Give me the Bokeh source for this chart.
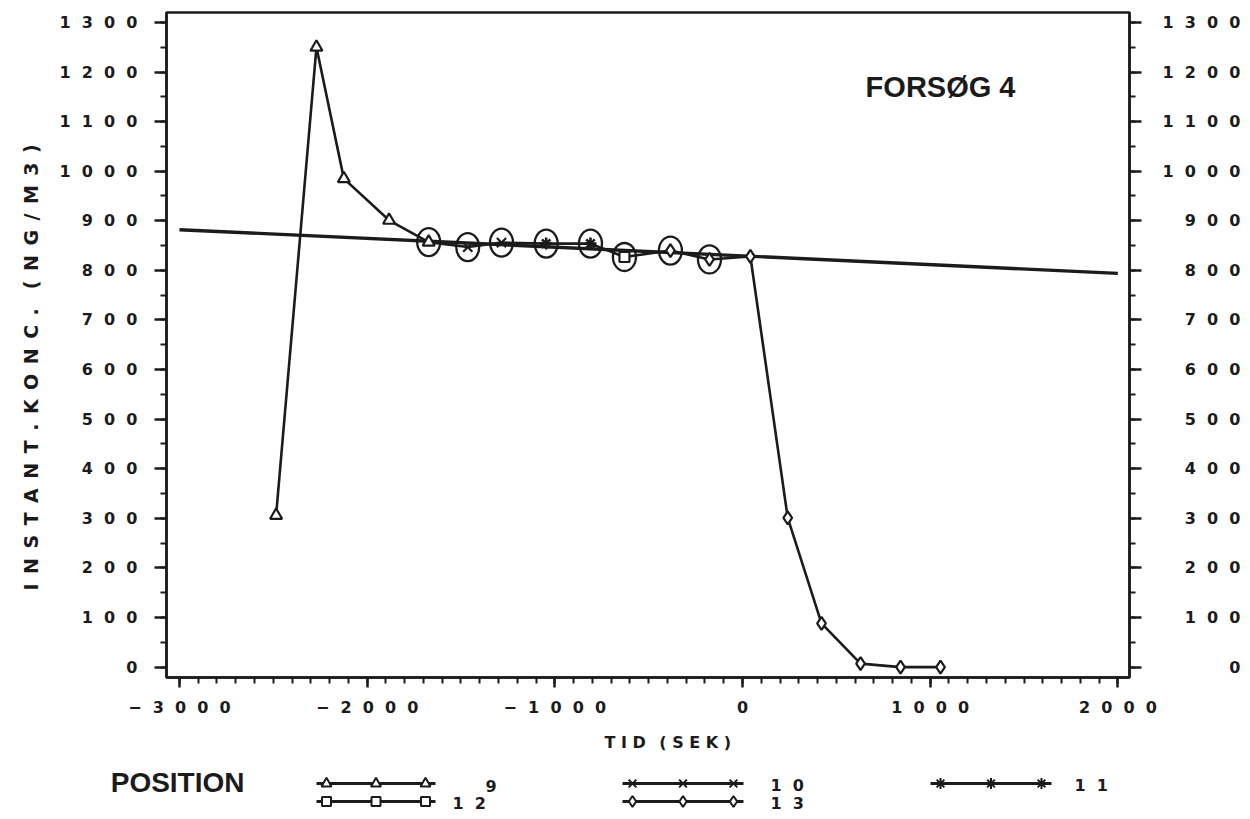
from bokeh.plotting import figure
from bokeh.models import Range1d, FixedTicker, LinearAxis, Label, Title
from bokeh.layouts import column
from bokeh.embed import file_html
from bokeh.resources import INLINE
from bokeh.core.properties import value

# ---------------- data ----------------
pos9_t = [-2485, -2270, -2124, -1883, -1672]
pos9_c = [306, 1250, 985, 901, 857]
pos10_t = [-1464, -1284]
pos10_c = [847, 856]
pos11_t = [-1046, -810]
pos11_c = [854, 854]
pos12_t = [-629]
pos12_c = [827]
pos13_t = [-384, -176, 42, 241, 421, 629, 842, 1055]
pos13_c = [840, 822, 828, 301, 88, 7, 0, 0]

regression_window = (-1700, -150)      # circled points used for the fit
reg_t = [-3000, 2000]
reg_c = [882, 794]

x_ticks = [-3000, -2000, -1000, 0, 1000, 2000]
y_ticks = [0, 100, 200, 300, 400, 500, 600, 700, 800, 900, 1000, 1100, 1200, 1300]
legend_names = ["9", "10", "11", "12", "13"]
title_text = "FORSØG 4"
x_title = "TID (SEK)"
y_title = "INSTANT.KONC. (NG/M3)"
legend_title = "POSITION"

# ---------------- helpers ----------------
INK = "#1b1b1b"
FS = "\u2007"   # figure space (same width as a digit)
EN = "\u2002"   # en space
NUM_FONT = "DejaVu Sans"


def spaced_num(v):
    s = str(v).replace("-", "\u2212")
    return FS.join(s)


def spaced_words(s, sep=EN, word_sep=EN * 2):
    return word_sep.join(sep.join(w) for w in s.split(" "))


all_t = pos9_t + pos10_t + pos11_t + pos12_t + pos13_t
all_c = pos9_c + pos10_c + pos11_c + pos12_c + pos13_c
circ_t = [t for t in all_t if regression_window[0] <= t <= regression_window[1]]
circ_c = [c for t, c in zip(all_t, all_c) if regression_window[0] <= t <= regression_window[1]]

# ---------------- main figure ----------------
W = 1250
MAIN_H = 765
p = figure(width=W, height=MAIN_H, x_range=Range1d(-3069, 2062), y_range=Range1d(-21, 1320),
           output_backend="svg", toolbar_location=None)
p.min_border_left = 166
p.min_border_right = 121
p.min_border_top = 12
p.min_border_bottom = MAIN_H - 677
p.grid.visible = False
p.outline_line_color = INK
p.outline_line_width = 2.5
p.background_fill_color = "white"
p.border_fill_color = "white"


def style_axis(ax, tick_out, minor_out, standoff):
    ax.axis_line_color = INK
    ax.axis_line_width = 2.5
    ax.major_tick_in = 0
    ax.major_tick_out = tick_out
    ax.minor_tick_in = 0
    ax.minor_tick_out = minor_out
    ax.major_tick_line_color = INK
    ax.major_tick_line_width = 2.5
    ax.minor_tick_line_color = INK
    ax.minor_tick_line_width = 2
    ax.major_label_text_font = NUM_FONT
    ax.major_label_text_font_style = "bold"
    ax.major_label_text_font_size = "16px"
    ax.major_label_text_color = INK
    ax.major_label_standoff = standoff


xax = p.xaxis[0]
xax.ticker = FixedTicker(ticks=x_ticks, minor_ticks=list(range(x_ticks[0], x_ticks[-1] + 1, 100)))
style_axis(xax, 10, 6, 10)
xax.major_label_overrides = {t: spaced_num(t) for t in x_ticks}

yminor = list(range(y_ticks[0], y_ticks[-1] + 1, 50))
yax = p.yaxis[0]
yax.ticker = FixedTicker(ticks=y_ticks, minor_ticks=yminor)
style_axis(yax, 12, 6, 17)
yax.major_label_overrides = {t: spaced_num(t) for t in y_ticks}

rax = LinearAxis(ticker=FixedTicker(ticks=y_ticks, minor_ticks=yminor))
style_axis(rax, 12, 6, 21)
width_chars = len(spaced_num(max(y_ticks)))
rax.major_label_overrides = {t: spaced_num(t).rjust(width_chars, FS) for t in y_ticks}
p.add_layout(rax, "right")

# axis titles as side-panel titles (placed like the reference)
p.add_layout(Title(text=spaced_words(x_title, " ", " " + EN), align="left", offset=438, standoff=22,
                   text_font=NUM_FONT, text_font_style="bold", text_font_size="16px",
                   text_color=INK), "below")
p.add_layout(Title(text=spaced_words(y_title), align="left", offset=87, standoff=30,
                   text_font=NUM_FONT, text_font_style="bold", text_font_size="19px",
                   text_color=INK), "left")

# regression line and data polyline
p.line(reg_t, reg_c, line_color=INK, line_width=3.4)
p.line(all_t, all_c, line_color=INK, line_width=2.6)

# circles around the points used in the fit
p.ellipse(x=circ_t, y=circ_c, width=23, height=28, width_units="screen", height_units="screen",
          fill_color=None, line_color=INK, line_width=2.3)

mk = dict(line_color=INK, line_width=2.2)
p.scatter(pos9_t, pos9_c, marker="triangle", size=12, fill_color="white", **mk)
p.scatter(pos10_t, pos10_c, marker="x", size=13, **mk)
p.scatter(pos11_t, pos11_c, marker="asterisk", size=12, line_color=INK, line_width=2.6)
p.scatter(pos12_t, pos12_c, marker="square", size=10, fill_color="white", **mk)
p.scatter(pos13_t, pos13_c, marker="diamond", size=13, fill_color="white", **mk)

p.add_layout(Label(x=656, y=1170, text=title_text, text_font="Liberation Sans",
                   text_font_style="bold", text_font_size="29px", text_color=INK,
                   text_baseline="alphabetic", text_align="left"))

# ---------------- legend strip (coordinates = page pixels) ----------------
LEG_H = 818 - MAIN_H
lg = figure(width=W, height=LEG_H, x_range=Range1d(166, 1129), y_range=Range1d(818, MAIN_H),
            output_backend="svg", toolbar_location=None,
            x_axis_location=None, y_axis_location=None)
lg.min_border_left = 166
lg.min_border_right = 121
lg.min_border_top = 0
lg.min_border_bottom = 0
lg.grid.visible = False
lg.outline_line_color = None
lg.background_fill_color = "white"
lg.border_fill_color = "white"

# the word POSITION, carried by a bare axis so it can sit left of the frame
pos_word_y = 782
pax = LinearAxis(ticker=FixedTicker(ticks=[pos_word_y], minor_ticks=[]),
                 major_label_overrides={pos_word_y: legend_title})
pax.axis_line_color = None
pax.major_tick_line_color = None
pax.minor_tick_line_color = None
pax.major_tick_in = 0
pax.major_tick_out = 0
pax.major_label_standoff = -78
pax.major_label_text_font = "Liberation Sans"
pax.major_label_text_font_style = "bold"
pax.major_label_text_font_size = "28px"
pax.major_label_text_color = INK
lg.add_layout(pax, "left")

# layout of legend entries: (line x0, line x1, row y, label x)
slots = [(316, 435, 783, 485), (622, 743, 783, 770), (930, 1051, 783, 1074),
         (316, 435, 801, 452), (622, 743, 801, 770)]
markers = [("triangle", 10), ("x", 11), ("asterisk", 11), ("square", 9), ("diamond", 11)]
for (x0, x1, y, lx), (m, s), name in zip(slots, markers, legend_names):
    lg.line([x0, x1], [y, y], line_color=INK, line_width=2.8)
    xs = [x0 + 10, (x0 + x1) / 2, x1 - 10]
    lg.scatter(xs, [y] * 3, marker=m, size=s, fill_color="white", line_color=INK, line_width=2)
    lg.text(x=[lx], y=[y + 2], text=[spaced_num(name)], text_font=value(NUM_FONT),
            text_font_style="bold", text_font_size="16px", text_color=INK,
            text_baseline="middle", text_align="left")

layout = column(p, lg, spacing=0)
open("out.html", "w").write(file_html(layout, INLINE))
